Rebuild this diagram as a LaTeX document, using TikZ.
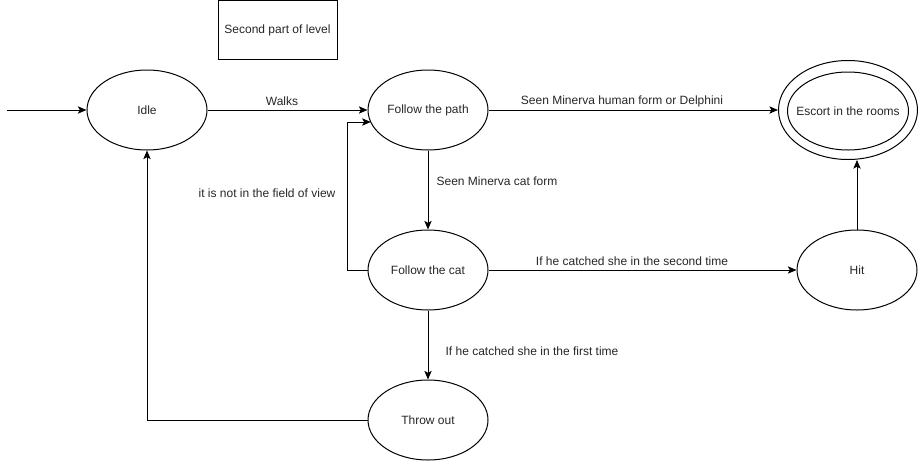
\documentclass[tikz,border=0pt]{standalone}
\usepackage{fontspec}
\setmainfont{Liberation Sans}
\usetikzlibrary{shapes.geometric,arrows.meta}
\begin{document}
\begin{tikzpicture}[x=0.75pt,y=-0.75pt,
  every node/.style={font=\fontsize{9pt}{11pt}\selectfont, text=black!85},
  state/.style={draw, ellipse, line width=0.75pt, minimum width=90pt, minimum height=60pt, inner sep=0pt},
  ring/.style={draw, ellipse, line width=0.75pt, inner sep=0pt},
  box/.style={draw, rectangle, line width=0.75pt, minimum width=89.25pt, minimum height=44.25pt, inner sep=0pt},
  arr/.style={line width=0.75pt, -{Stealth[length=6.5pt,width=5.5pt,inset=1.5pt]}},
  lbl/.style={inner sep=0pt}]
\useasboundingbox (0,0) rectangle (918,461);
% nodes
\node[box] (part) at (277.5,30) {Second part of level};
\node[state] (idle) at (147,110) {Idle};
\node[state] (path) at (428,110) {Follow the path};
\node[ring, minimum width=104.25pt, minimum height=74.25pt] (esc) at (848,110) {};
\node[ring, minimum width=90.75pt, minimum height=58.5pt,
      label={[lbl]center:Escort in the rooms}] (escin) at (848,111) {};
\node[state] (cat) at (428,270) {Follow the cat};
\node[state] (hit) at (857,270) {Hit};
\node[state] (throw) at (428,420) {Throw out};
\coordinate (start) at (7,110);
\coordinate (pin) at (370.8,122);
% connectors
\draw[arr] (start) -- (idle.west);
\draw[arr] (idle.east) -- (path.west);
\draw[arr] (path.east) -- (esc.west);
\draw[arr] (path.south) -- (cat.north);
\draw[arr] (cat.east) -- (hit.west);
\draw[arr] (cat.south) -- (throw.north);
\draw[arr] (hit.north) -- (hit.north |- esc.south);
\draw[arr] (cat.west) -- ++(-20,0) |- (pin);
\draw[arr] (throw.west) -| (idle.south);
% labels
\node[lbl] (l1) at (282,101) {Walks};
\node[lbl] (l2) at (622,101) {Seen Minerva human form or Delphini};
\node[lbl] (l3) at (497,181) {Seen Minerva cat form};
\node[lbl] (l4) at (267,193) {it is not in the field of view};
\node[lbl] (l5) at (632,261) {If he catched she in the second time};
\node[lbl] (l6) at (532,351) {If he catched she in the first time};
\end{tikzpicture}
\end{document}
